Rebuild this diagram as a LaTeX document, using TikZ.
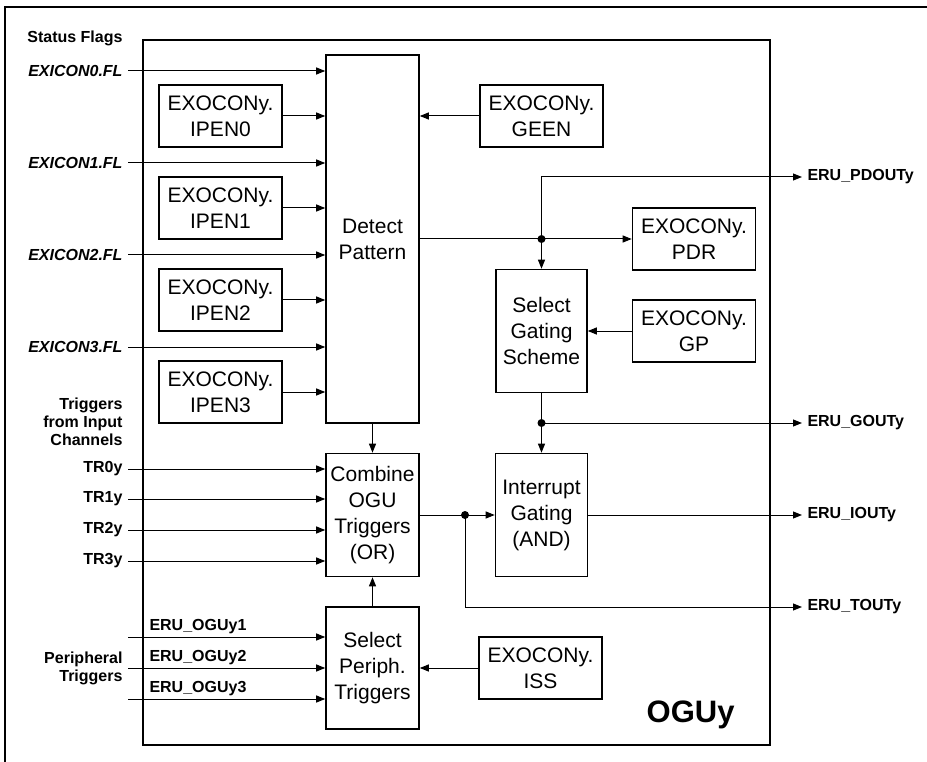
\documentclass[tikz,border=0pt]{standalone}
\usepackage{fontspec}
\setmainfont{Liberation Sans}
\usetikzlibrary{positioning, arrows.meta, calc}

\begin{document}
\begin{tikzpicture}[
    x=1pt, y=-1pt,
    line width=1pt,
    block/.style={draw, rectangle, line width=1.6pt, minimum width=93pt, minimum height=123pt, inner sep=1pt, align=center, font=\fontsize{21}{26}\selectfont},
    reg/.style={draw, rectangle, line width=1.6pt, minimum width=123pt, minimum height=62pt, inner sep=1pt, align=center, font=\fontsize{21}{26}\selectfont},
    inlabel/.style={anchor=east, inner sep=5pt, align=right, font=\fontsize{16}{18}\selectfont\bfseries},
    flaglabel/.style={inlabel, font=\fontsize{16}{18}\selectfont\bfseries\itshape},
    outlabel/.style={anchor=west, inner sep=5pt, font=\fontsize{16}{18}\selectfont\bfseries},
    buslabel/.style={anchor=south west, inner sep=3pt, font=\fontsize{16}{18}\selectfont\bfseries},
    sig/.style={-{Triangle[length=9pt, width=7pt]}}
]
    \useasboundingbox (0,0) rectangle (927,762);

    % --- OUTER FRAME ---
    \draw[line width=1.2pt] (5,762) -- (5,7) -- (927,7);

    % --- OGUy UNIT ---
    \node[draw, line width=1.8pt, minimum width=627pt, minimum height=705pt, inner sep=0pt] (ogu) at (456.5,392.5) {};
    \node[anchor=base east, inner sep=0pt, font=\fontsize{31}{31}\selectfont\bfseries] (oguname) at (735,722) {OGUy};

    % --- PATTERN DETECTION ---
    \node[block, minimum height=368pt] (detect) at (372.5,239) {Detect\\Pattern};
    \node[reg] (ipen0) at (220.5,116) {EXOCONy.\\IPEN0};
    \node[reg] (ipen1) at (220.5,208) {EXOCONy.\\IPEN1};
    \node[reg] (ipen2) at (220.5,300) {EXOCONy.\\IPEN2};
    \node[reg] (ipen3) at (220.5,392) {EXOCONy.\\IPEN3};
    \node[reg] (geen) at (541.5,116) {EXOCONy.\\GEEN};

    % Status flag inputs
    \node[inlabel] (status) at (128,38) {Status Flags};
    \node[flaglabel] (fl0) at (128,71) {EXICON0.FL};
    \node[flaglabel] (fl1) at (128,163) {EXICON1.FL};
    \node[flaglabel] (fl2) at (128,255) {EXICON2.FL};
    \node[flaglabel] (fl3) at (128,347) {EXICON3.FL};
    \draw[sig] (fl0.east) -- (fl0.east -| detect.west);
    \draw[sig] (fl1.east) -- (fl1.east -| detect.west);
    \draw[sig] (fl2.east) -- (fl2.east -| detect.west);
    \draw[sig] (fl3.east) -- (fl3.east -| detect.west);

    % Enable bits
    \draw[sig] (ipen0.east) -- (ipen0.east -| detect.west);
    \draw[sig] (ipen1.east) -- (ipen1.east -| detect.west);
    \draw[sig] (ipen2.east) -- (ipen2.east -| detect.west);
    \draw[sig] (ipen3.east) -- (ipen3.east -| detect.west);
    \draw[sig] (geen.west) -- (geen.west -| detect.east);

    % --- GATING SCHEME ---
    \node[reg] (pdr) at (694,239) {EXOCONy.\\PDR};
    \node[reg] (gp) at (694,331) {EXOCONy.\\GP};
    \node[block, minimum width=91pt] (gating) at (541.5,331) {Select\\Gating\\Scheme};
    \coordinate (pjunc) at (gating.north |- pdr.west);
    \draw[sig] (detect.east |- pdr.west) -- (pdr.west);
    \draw[sig] (pjunc) -- (gating.north);
    \fill (pjunc) circle (4pt);
    \node[outlabel] (pdout) at (802,177) {ERU\_PDOUTy};
    \draw[sig] (pjunc) |- (pdout.west);
    \draw[sig] (gp.west) -- (gating.east);

    \node[block, minimum width=92pt] (intgate) at (541.5,515) {Interrupt\\Gating\\(AND)};
    \coordinate (gjunc) at (541.5,423);
    \draw[sig] (gating.south) -- (intgate.north);
    \fill (gjunc) circle (4pt);
    \node[outlabel] (gout) at (802,423) {ERU\_GOUTy};
    \draw[sig] (gjunc) -- (gout.west);

    % --- TRIGGER COMBINATION ---
    \node[block] (combine) at (372.5,515) {Combine\\OGU\\Triggers\\(OR)};
    \draw[sig] (detect.south) -- (combine.north);
    \node[inlabel] (trin) at (128,422) {Triggers\\from Input\\Channels};
    \node[inlabel] (tr0) at (128,469) {TR0y};
    \node[inlabel] (tr1) at (128,499) {TR1y};
    \node[inlabel] (tr2) at (128,530) {TR2y};
    \node[inlabel] (tr3) at (128,561) {TR3y};
    \draw[sig] (tr0.east) -- (tr0.east -| combine.west);
    \draw[sig] (tr1.east) -- (tr1.east -| combine.west);
    \draw[sig] (tr2.east) -- (tr2.east -| combine.west);
    \draw[sig] (tr3.east) -- (tr3.east -| combine.west);

    \coordinate (tjunc) at (465,515);
    \draw[sig] (combine.east) -- (intgate.west);
    \fill (tjunc) circle (4pt);
    \node[outlabel] (iout) at (802,515) {ERU\_IOUTy};
    \draw[sig] (intgate.east) -- (iout.west);
    \node[outlabel] (tout) at (802,607) {ERU\_TOUTy};
    \draw[sig] (tjunc) |- (tout.west);

    % --- PERIPHERAL TRIGGERS ---
    \node[block, minimum height=122pt] (periph) at (372.5,668) {Select\\Periph.\\Triggers};
    \draw[sig] (periph.north) -- (combine.south);
    \node[reg] (iss) at (540.5,668) {EXOCONy.\\ISS};
    \draw[sig] (iss.west) -- (periph.east);

    \node[inlabel] (pertrig) at (128,668) {Peripheral\\Triggers};
    \coordinate (ogu1in) at (128,637);
    \coordinate (ogu2in) at (128,668);
    \coordinate (ogu3in) at (128,699);
    \node[buslabel] (ogu1lbl) at (146,637) {ERU\_OGUy1};
    \node[buslabel] (ogu2lbl) at (146,668) {ERU\_OGUy2};
    \node[buslabel] (ogu3lbl) at (146,699) {ERU\_OGUy3};
    \draw[sig] (ogu1in) -- (ogu1in -| periph.west);
    \draw[sig] (ogu2in) -- (ogu2in -| periph.west);
    \draw[sig] (ogu3in) -- (ogu3in -| periph.west);

\end{tikzpicture}
\end{document}
